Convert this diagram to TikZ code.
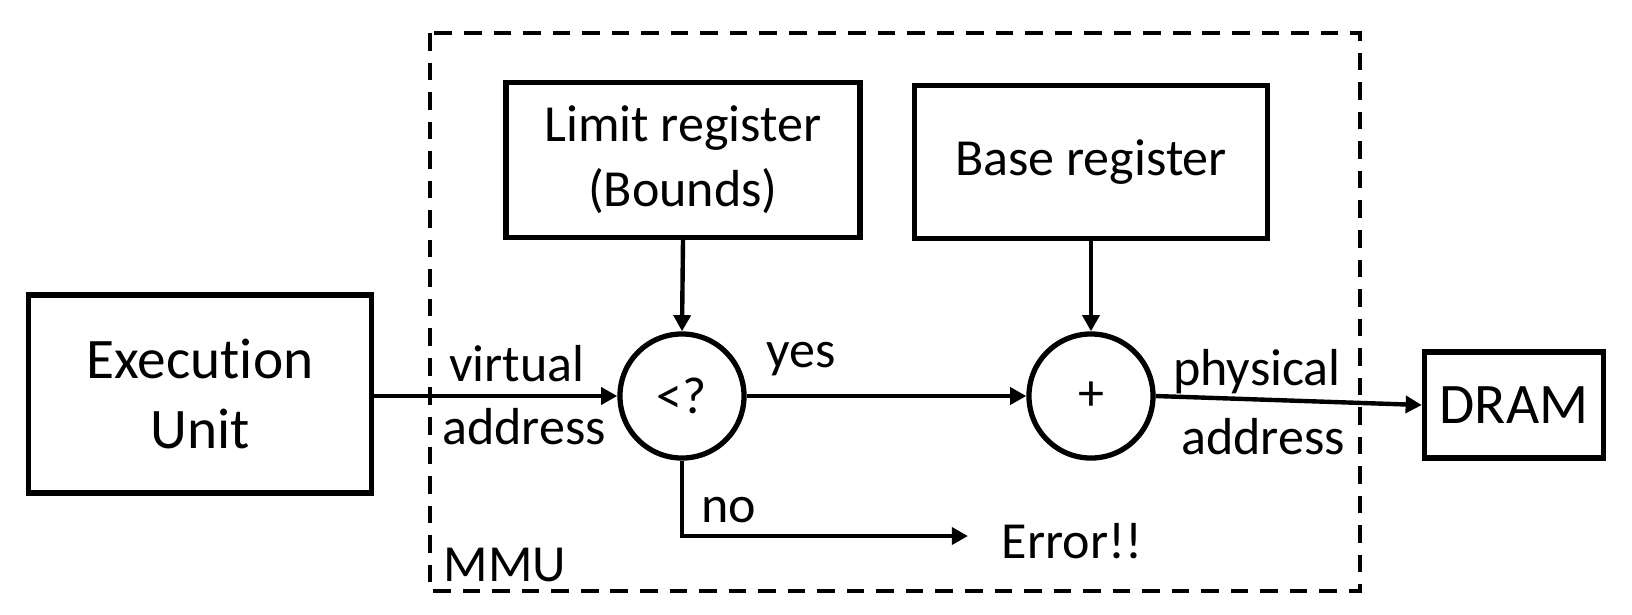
\documentclass[tikz,border=0pt]{standalone}
\usepackage{fontspec}
\setmainfont[Ligatures=NoCommon]{Carlito}
\usetikzlibrary{arrows.meta}
\definecolor{mmuink}{RGB}{0,0,0}

\begin{document}
\begin{tikzpicture}[x=0.01cm, y=-0.01cm, line width=1.25pt,
    regbox/.style={draw=mmuink, line width=1.5pt, align=center, inner sep=0pt,
      font=\fontsize{14.8}{18.5}\selectfont},
    bigbox/.style={regbox, font=\fontsize{16.3}{20}\selectfont},
    opcircle/.style={draw=mmuink, line width=1.5pt, circle, minimum size=1.24cm, inner sep=0pt,
      font=\fontsize{14.8}{18}\selectfont},
    lbl/.style={inner sep=0pt, font=\fontsize{14.8}{18}\selectfont},
    flow/.style={draw=mmuink, -{Triangle[length=4.6pt,width=4.8pt]}},
    mmuframe/.style={draw=mmuink, line width=1pt, dash pattern=on 5pt off 3.4pt}]
  \useasboundingbox (0,0) rectangle (1632,614);
  \draw[mmuframe] (430,33) rectangle (1360,591);
  \node[bigbox, minimum width=3.43cm, minimum height=1.98cm] (eu) at (200,394) {Execution\\Unit};
  \node[regbox, minimum width=3.54cm, minimum height=1.55cm] (lim) at (683,160) {Limit register\\(Bounds)};
  \node[regbox, minimum width=3.53cm, minimum height=1.53cm] (base) at (1091,162) {Base register};
  \node[opcircle] (cmp) at (682,396) {<?};
  \node[opcircle] (add) at (1091,396) {+};
  \node[bigbox, minimum width=1.79cm, minimum height=1.06cm] (dram) at (1514,405) {DRAM};
  \node[lbl] (err) at (1072,541) {Error!!};
  \coordinate (errin) at (968,536);
  \draw[flow] (eu.east |- cmp.west) -- (cmp.west);
  \draw[flow] (lim.south) -- (cmp.north);
  \draw[flow] (base.south) -- (add.north);
  \draw[flow] (cmp.east) -- (add.west);
  \draw[flow] (add.east) -- (dram.west);
  \draw[flow] (cmp.south) |- (errin);
  \node[lbl] at (517,364) {virtual};
  \node[lbl] at (524,427) {address};
  \node[lbl] at (801,359) {yes};
  \node[lbl] at (729,510) {no};
  \node[lbl] at (1257,372) {physical};
  \node[lbl] at (1263,437) {address};
  \node[lbl] at (505,565) {MMU};
\end{tikzpicture}
\end{document}
